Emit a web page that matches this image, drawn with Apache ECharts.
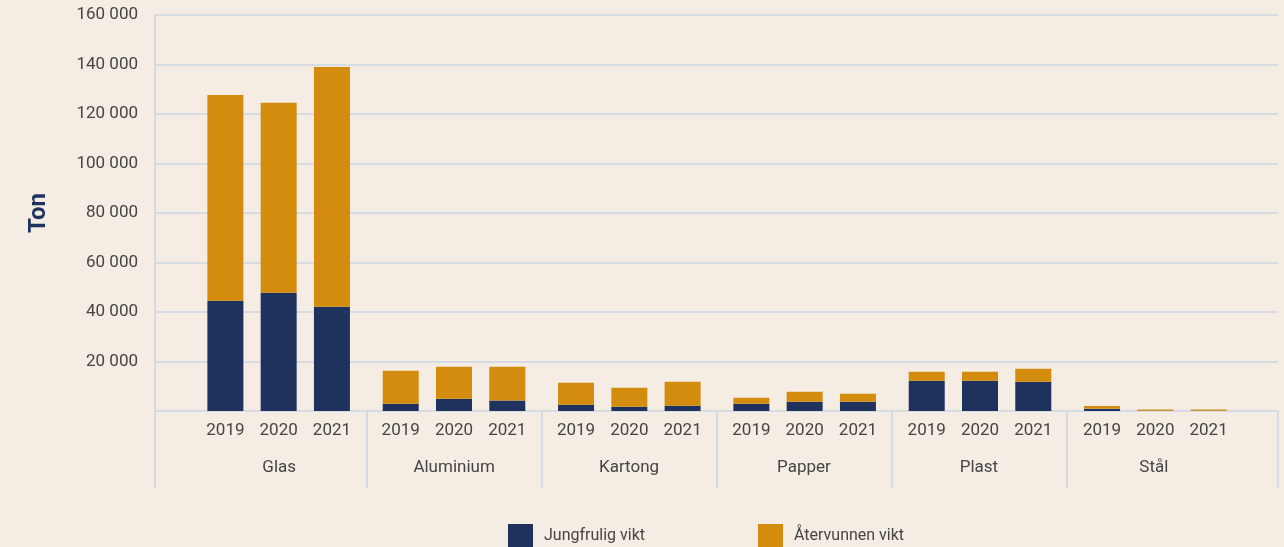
<!DOCTYPE html>
<html>
<head>
<meta charset="utf-8">
<title>Ton per material och år</title>
<script src="https://cdn.jsdelivr.net/npm/echarts@6/dist/echarts.min.js"></script>
<style>
	html, body { margin: 0; padding: 0; background: #f5ece4; }
	#chart { width: 1284px; height: 547px; }
</style>
</head>
<body>
<div id="chart"></div>
<script>
	'use strict';

	var materials = ['Glas', 'Aluminium', 'Kartong', 'Papper', 'Plast', 'Stål'];
	var years = ['2019', '2020', '2021'];

	/* Jungfrulig vikt (ton), one value per material */
	var virgin2019 = [44500, 2900, 2500, 2900, 12200, 900];
	var virgin2020 = [47800, 5000, 1700, 3700, 12200, 100];
	var virgin2021 = [42100, 4200, 2100, 3700, 11800, 100];

	/* Återvunnen vikt (ton) */
	var recycled2019 = [83200, 13400, 8900, 2500, 3700, 1100];
	var recycled2020 = [76700, 12900, 7700, 4100, 3700, 500];
	var recycled2021 = [96900, 13700, 9700, 3300, 5300, 500];

	var yTicks = [0, 20000, 40000, 60000, 80000, 100000, 120000, 140000, 160000];

	var virgin = [virgin2019, virgin2020, virgin2021];
	var recycled = [recycled2019, recycled2020, recycled2021];

	var navy = '#1f325e';
	var gold = '#d38c0e';
	var lineColor = '#ccd6e4';
	var textColor = '#454545';
	var font = 'Roboto';

	function thousands(v) {
		if (v === 0) return '';
		return String(v).replace(/\B(?=(\d{3})+(?!\d))/g, ' ');
	}

	/* bars live in grid 1 (category axis), frame/ticks/labels in grid 0 */
	var series = [];
	years.forEach(function (year, k) {
		series.push({
			name: 'Jungfrulig vikt',
			type: 'bar',
			xAxisIndex: 1,
			yAxisIndex: 1,
			stack: 'y' + year,
			barWidth: 36,
			barGap: '48%',
			data: virgin[k],
			label: {
				show: true,
				position: 'bottom',
				distance: 11,
				formatter: year,
				fontFamily: font,
				fontSize: 17,
				color: textColor
			}
		});
		series.push({
			name: 'Återvunnen vikt',
			type: 'bar',
			xAxisIndex: 1,
			yAxisIndex: 1,
			stack: 'y' + year,
			barWidth: 36,
			barGap: '48%',
			data: recycled[k]
		});
	});

	var yMin = yTicks[0];
	var yMax = yTicks[yTicks.length - 1];

	var option = {
		backgroundColor: '#f5ece4',
		color: [navy, gold],
		animation: false,
		grid: [
			{ left: 155, right: 6, top: 15, bottom: 136 },
			{ left: 191, right: 41, top: 15, bottom: 136 }
		],
		legend: {
			data: ['Jungfrulig vikt', 'Återvunnen vikt'],
			left: 503,
			top: 519,
			icon: 'rect',
			itemWidth: 25,
			itemHeight: 24,
			itemGap: 113,
			textStyle: {
				fontFamily: font,
				fontSize: 16,
				color: textColor,
				padding: [0, 0, 0, 6]
			}
		},
		xAxis: [
			{
				gridIndex: 0,
				type: 'value',
				min: -0.71,
				max: 5.71,
				offset: 5,
				axisLine: { show: false },
				splitLine: { show: false },
				axisTick: {
					show: true,
					length: 77,
					customValues: [-0.71, 0.5, 1.5, 2.5, 3.5, 4.5, 5.71],
					lineStyle: { color: lineColor, width: 1.5 }
				},
				axisLabel: {
					customValues: materials.map(function (m, i) { return i; }),
					margin: 43,
					fontFamily: font,
					fontSize: 17,
					color: textColor,
					formatter: function (v) { return materials[Math.round(v)]; }
				}
			},
			{
				gridIndex: 1,
				type: 'category',
				data: materials,
				show: false
			}
		],
		yAxis: [
			{
				gridIndex: 0,
				type: 'value',
				min: yMin,
				max: yMax,
				interval: yTicks[1] - yTicks[0],
				name: 'Ton',
				nameLocation: 'middle',
				nameGap: 104,
				nameTextStyle: {
					fontFamily: font,
					fontSize: 24,
					fontWeight: 'bold',
					color: navy
				},
				axisLine: { show: true, onZero: false, lineStyle: { color: lineColor, width: 1.5 } },
				axisTick: { show: false },
				splitLine: { lineStyle: { color: lineColor, width: 1.5 } },
				axisLabel: {
					margin: 17,
					fontFamily: font,
					fontSize: 17,
					color: textColor,
					formatter: thousands
				}
			},
			{
				gridIndex: 1,
				type: 'value',
				min: yMin,
				max: yMax,
				show: false,
				splitLine: { show: false }
			}
		],
		series: series
	};

	var chart = echarts.init(document.getElementById('chart'));
	chart.setOption(option);
</script>
</body>
</html>
